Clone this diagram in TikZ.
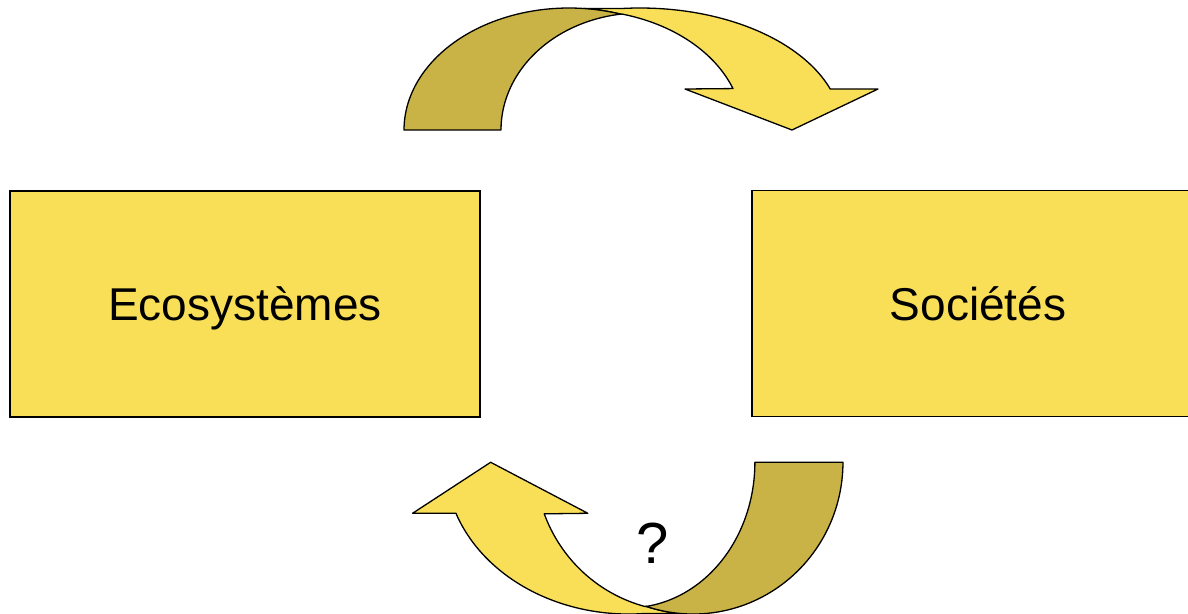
\documentclass[tikz,border=0pt]{standalone}
\usepackage{fontspec}
\setmainfont{Liberation Sans}
\definecolor{boxyellow}{HTML}{F9DF58}
\definecolor{arrowdark}{HTML}{C9B347}
\tikzset{
  boxnode/.style={draw=black, line width=1.8pt, fill=boxyellow, minimum width=470pt, minimum height=226pt, inner sep=0pt, text height=33pt, text depth=0pt, font=\fontsize{46}{50}\selectfont},
  bandlight/.style={fill=boxyellow, draw=black, line width=1.3pt, line join=round},
  banddark/.style={fill=arrowdark, draw=black, line width=1.3pt, line join=round},
}
\newcommand{\loopedarrow}{%
  \filldraw[bandlight]
    plot[domain=71.6:85, samples=8] ({569+165*cos(\x)},{130-122*sin(\x)})
    -- plot[domain=95:19.6, samples=50] ({640+202*cos(\x)},{130-122*sin(\x)})
    -- (878,89) -- (792,130) -- (685,89)
    -- plot[domain=20.2:75.1, samples=50] ({580+163*cos(\x)},{130-120*sin(\x)})
    -- cycle;
  \filldraw[banddark]
    plot[domain=180:71.6, samples=60] ({569+165*cos(\x)},{130-122*sin(\x)})
    -- plot[domain=97.9:180, samples=60] ({640+139*cos(\x)},{130-117*sin(\x)})
    -- cycle;
}
\begin{document}
\begin{tikzpicture}[x=1pt, y=-1pt]
\useasboundingbox (0,0) rectangle (1188,613);
\clip (0,0) rectangle (1188,613);
\fill[white] (0,0) rectangle (1188,613);
% top arrow
\loopedarrow
% bottom arrow (rotated copy)
\begin{scope}[shift={(1209.8,624.0)}, xscale=-0.908, yscale=-1.244]
\loopedarrow
\end{scope}
% boxes
\node[boxnode] (eco) at (245,304) {Ecosystèmes};
\node[boxnode, minimum width=452pt] (soc) at (978,303.5) {Sociétés};
% question mark
\node[anchor=base, inner sep=0pt, font=\fontsize{58}{62}\selectfont] (q) at (652.5,563) {?};
\end{tikzpicture}
\end{document}
